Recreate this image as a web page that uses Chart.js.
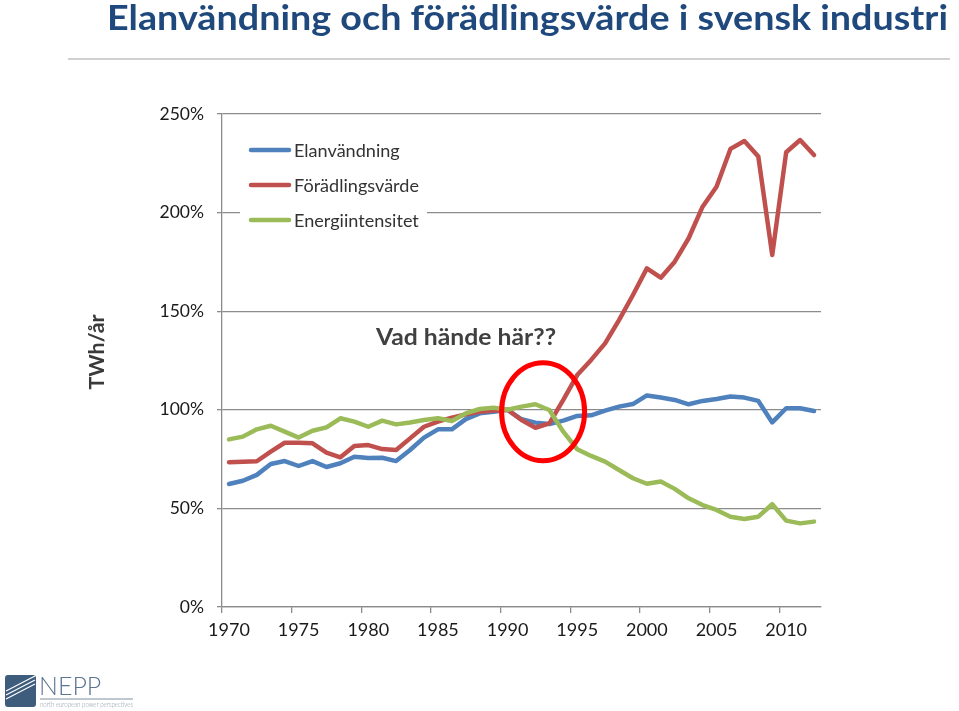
<!DOCTYPE html>
<html><head><meta charset="utf-8">
<script src="https://cdn.jsdelivr.net/npm/chart.js@4.4.0/dist/chart.umd.min.js"></script>
<style>html,body{margin:0;padding:0;background:#fff;}canvas{display:block;}</style>
</head><body>
<canvas id="c" width="959" height="711"></canvas>
<script>
const years = ['1970','1971','1972','1973','1974','1975','1976','1977','1978','1979',
  '1980','1981','1982','1983','1984','1985','1986','1987','1988','1989',
  '1990','1991','1992','1993','1994','1995','1996','1997','1998','1999',
  '2000','2001','2002','2003','2004','2005','2006','2007','2008','2009',
  '2010','2011','2012'];
const elanvandning = [62.4,64,67,72.5,74,71.5,74,71,72.9,76.2,
  75.5,75.7,74,79.6,85.9,90.1,90.1,95.3,98.2,99,
  100,95.2,93.5,92.8,94.5,96.9,97.2,99.6,101.6,102.9,
  107.3,106.2,105,102.8,104.5,105.5,106.7,106.2,104.5,93.6,
  100.8,100.8,99.4];
const foradlingsvarde = [73.4,73.7,73.9,78.8,83.3,83.3,83,78.3,75.9,81.6,
  82.1,80.1,79.6,85.5,91.4,94,96,97.7,99,99.6,
  100,94.8,90.9,93.1,105,117.6,125.3,133.7,145.5,158.2,
  171.7,167,175.1,187,203,213.1,232.3,236.3,228.4,178.5,
  230.6,236.8,229.2];
const energiintensitet = [85,86.4,90.1,91.9,88.9,85.9,89.4,91.1,95.7,94,
  91.4,94.5,92.6,93.6,94.8,95.7,94.3,98.2,100.4,101.1,
  100,101.6,102.8,99.9,88.9,80,76.6,73.7,69.5,65.3,
  62.5,63.6,59.9,55.1,51.7,49.2,45.8,44.6,45.8,52.1,
  43.8,42.4,43.3];
const seriesNames = ['Elanvändning','Förädlingsvärde','Energiintensitet'];
const seriesColors = ['#4F81BD','#C0504D','#9BBB59'];
const yTicks = [0,50,100,150,200,250];
const titleText = 'Elanvändning och förädlingsvärde i svensk industri';
const yTitle = 'TWh/år';
const noteText = 'Vad hände här??';
const logoName = 'NEPP';
const logoSub = 'north european power perspectives';

const FONT = 'Lato, "Open Sans", sans-serif';
const GRID = '#8c8c8c';

function fitText(ctx, text, weight, size, targetW) {
  ctx.font = weight + ' ' + size + 'px ' + FONT;
  const w = ctx.measureText(text).width;
  return targetW / w;
}

const overlay = {
  id: 'overlay',
  afterDatasetsDraw(chart) {
    const ctx = chart.ctx;
    const xs = chart.scales.x, ys = chart.scales.y;
    // red circle around early-90s
    const step = xs.getPixelForValue(1) - xs.getPixelForValue(0);
    const cx = xs.getPixelForValue(22) + 0.55 * step;
    const cy = ys.getPixelForValue(99);
    ctx.save();
    ctx.strokeStyle = '#FF0000';
    ctx.lineWidth = 5;
    ctx.beginPath();
    ctx.ellipse(cx, cy, 41.5, 49, 0, 0, Math.PI * 2);
    ctx.stroke();
    ctx.restore();

    // note text
    ctx.save();
    const sx = fitText(ctx, noteText, 'bold', 23, 180);
    ctx.fillStyle = '#404040';
    ctx.textBaseline = 'middle';
    ctx.translate(376, 338);
    ctx.scale(sx, 1);
    ctx.fillText(noteText, 0, 0);
    ctx.restore();

    // legend
    ctx.save();
    ctx.fillStyle = '#fff';
    ctx.fillRect(240, 130, 187, 106);
    const rows = [150, 185, 220];
    ctx.font = 'normal 17.5px ' + FONT;
    const lsx = 125 / ctx.measureText(seriesNames[1]).width;
    seriesNames.forEach((n, i) => {
      ctx.strokeStyle = seriesColors[i];
      ctx.lineWidth = 4.5;
      ctx.lineCap = 'round';
      ctx.beginPath();
      ctx.moveTo(251, rows[i]);
      ctx.lineTo(289, rows[i]);
      ctx.stroke();
      ctx.save();
      ctx.fillStyle = '#333';
      ctx.textBaseline = 'middle';
      ctx.translate(294, rows[i] + 1);
      ctx.scale(lsx, 1);
      ctx.fillText(n, 0, 0);
      ctx.restore();
    });
    ctx.restore();
  },
  afterDraw(chart) {
    const ctx = chart.ctx;
    // title
    ctx.save();
    const tsx = fitText(ctx, titleText, 'bold', 34, 841);
    ctx.fillStyle = '#1F497D';
    ctx.textBaseline = 'alphabetic';
    ctx.translate(107, 30);
    ctx.scale(tsx, 1);
    ctx.fillText(titleText, 0, 0);
    ctx.restore();
    // rule under title
    ctx.save();
    ctx.strokeStyle = '#d0d0d0';
    ctx.lineWidth = 2;
    ctx.beginPath();
    ctx.moveTo(68, 59);
    ctx.lineTo(950, 59);
    ctx.stroke();
    ctx.restore();

    // y title
    ctx.save();
    const ysx = fitText(ctx, yTitle, 'bold', 21, 75);
    ctx.fillStyle = '#3a3a3a';
    ctx.textBaseline = 'middle';
    ctx.textAlign = 'center';
    ctx.translate(97, 352);
    ctx.rotate(-Math.PI / 2);
    ctx.scale(ysx, 1);
    ctx.fillText(yTitle, 0, 0);
    ctx.restore();

    // logo
    ctx.save();
    ctx.fillStyle = '#3e5c7c';
    ctx.beginPath();
    ctx.roundRect(5, 675, 31, 32, 3);
    ctx.fill();
    ctx.strokeStyle = '#ffffff';
    ctx.lineWidth = 1.2;
    [0, 4, 8].forEach(o => {
      ctx.beginPath();
      ctx.moveTo(6, 699 - o);
      ctx.lineTo(35, 684 - o);
      ctx.stroke();
    });
    ctx.fillStyle = '#5b7491';
    ctx.font = '300 25px ' + FONT;
    ctx.textBaseline = 'alphabetic';
    ctx.fillText(logoName, 39, 695);
    ctx.strokeStyle = '#a8b3c0';
    ctx.lineWidth = 1.5;
    ctx.beginPath();
    ctx.moveTo(40, 699);
    ctx.lineTo(133, 699);
    ctx.stroke();
    ctx.fillStyle = '#8a97a6';
    const lsx2 = fitText(ctx, logoSub, '300', 7, 93);
    ctx.translate(40, 707);
    ctx.scale(lsx2, 1);
    ctx.fillText(logoSub, 0, 0);
    ctx.restore();
  }
};

const mk = (label, data, color, order) => ({
  label, data, borderColor: color, backgroundColor: color,
  borderWidth: 4.5, pointRadius: 0, tension: 0, fill: false,
  borderJoinStyle: 'round', borderCapStyle: 'round', order
});

new Chart(document.getElementById('c'), {
  type: 'line',
  data: {
    labels: years,
    datasets: [
      mk(seriesNames[0], elanvandning, seriesColors[0], 2),
      mk(seriesNames[1], foradlingsvarde, seriesColors[1], 1),
      mk(seriesNames[2], energiintensitet, seriesColors[2], 0)
    ]
  },
  options: {
    responsive: false,
    animation: false,
    devicePixelRatio: 1,
    layout: { padding: { left: 0, top: 114, right: 138, bottom: 0 } },
    plugins: { legend: { display: false }, tooltip: { enabled: false }, title: { display: false } },
    scales: {
      x: {
        type: 'category',
        offset: true,
        afterFit: s => { s.height = 104; },
        grid: {
          offset: true, drawOnChartArea: false, drawTicks: true, tickLength: 6,
          lineWidth: 1.3,
          color: c => (c.index % 5 === 0 && c.index < years.length) ? GRID : 'rgba(0,0,0,0)'
        },
        border: { display: true, color: GRID, width: 1.3 },
        ticks: {
          autoSkip: false, maxRotation: 0, minRotation: 0, padding: 6,
          color: '#1a1a1a', font: { family: FONT, size: 18 },
          callback: (v, i) => (i % 5 === 0 ? years[i] : '')
        }
      },
      y: {
        min: yTicks[0], max: yTicks[yTicks.length - 1],
        afterFit: s => { s.width = 222; },
        afterBuildTicks: s => { s.ticks = yTicks.map(v => ({ value: v })); },
        grid: { color: GRID, lineWidth: 1.3, drawTicks: true, tickLength: 5 },
        border: { display: true, color: GRID, width: 1.3 },
        ticks: {
          padding: 13, color: '#1a1a1a', font: { family: FONT, size: 17.5 },
          callback: v => v + '%'
        }
      }
    }
  },
  plugins: [overlay]
});
</script>
</body></html>
